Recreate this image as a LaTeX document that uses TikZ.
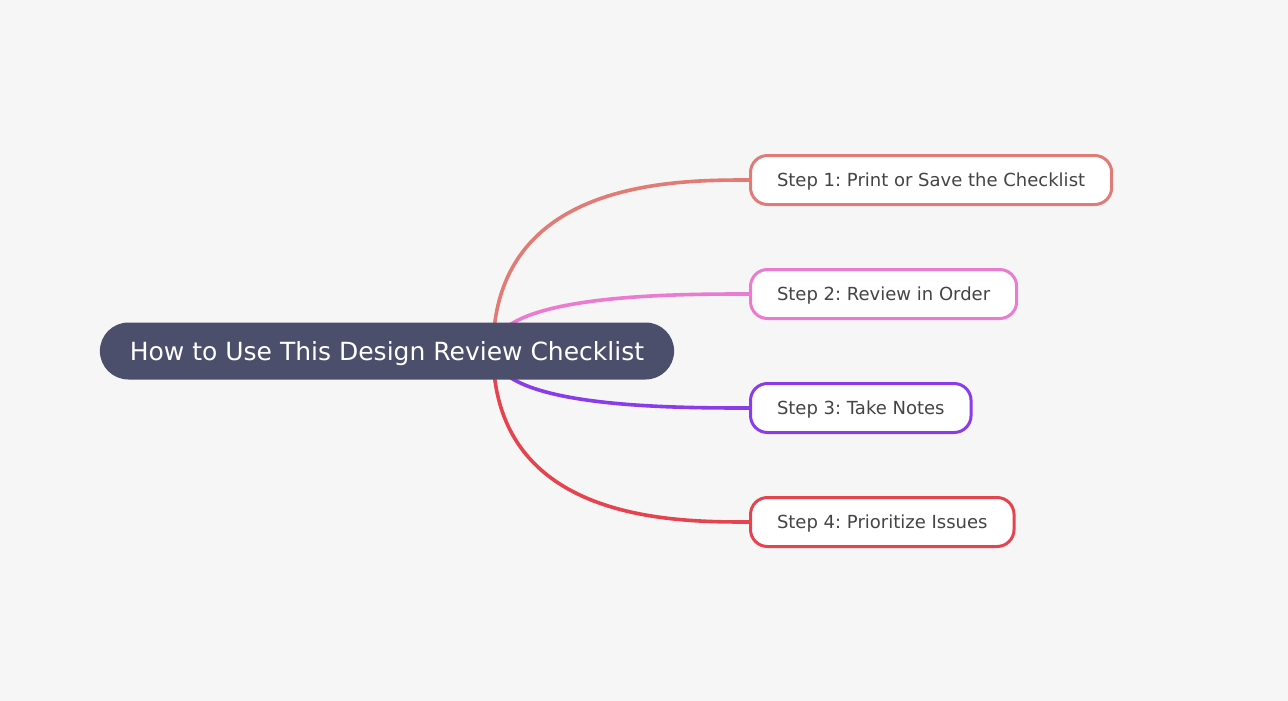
\documentclass[tikz,border=0pt]{standalone}
\usepackage{fontspec}
\setmainfont{DejaVu Sans}
\frenchspacing
\definecolor{pagebg}{HTML}{F6F6F6}
\definecolor{rootfill}{HTML}{4B4F6B}
\definecolor{stepone}{HTML}{E07B76}
\definecolor{steptwo}{HTML}{EB7BD0}
\definecolor{stepthree}{HTML}{8A3BEA}
\definecolor{stepfour}{HTML}{E5444F}
\definecolor{steptext}{HTML}{444444}
\pgfdeclarelayer{bg}
\pgfdeclarelayer{links}
\pgfsetlayers{bg,links,main}
\tikzset{
  rootbox/.style={fill=rootfill, text=white, rounded corners=28.5pt, minimum height=57pt,
    inner xsep=30pt, inner ysep=0pt, text height=18.2pt, text depth=0pt,
    font=\fontsize{25}{30}\selectfont},
  stepbox/.style={draw=#1, fill=white, line width=3pt, rounded corners=17pt, minimum height=49pt,
    inner xsep=26.5pt, inner ysep=0pt, text height=13.1pt, text depth=0pt, anchor=west,
    text=steptext, font=\fontsize{18}{22}\selectfont},
  link/.style={draw=#1, line width=3.6pt},
}

\begin{document}
\begin{tikzpicture}[x=1pt,y=1pt,yscale=-1,xscale=1]
\begin{pgfonlayer}{bg}
%Page background
\fill [pagebg] (0,0) rectangle (1288,701);
\end{pgfonlayer}
\useasboundingbox (0,0) rectangle (1288,701);

% Root Node
\node [rootbox] (root) at (387,351) {How to Use This Design Review Checklist};

% Step Nodes
\node [stepbox=stepone] (s1) at (749,180) {Step 1: Print or Save the Checklist};
\node [stepbox=steptwo] (s2) at (749,294) {Step 2: Review in Order};
\node [stepbox=stepthree] (s3) at (749,408) {Step 3: Take Notes};
\node [stepbox=stepfour] (s4) at (749,522) {Step 4: Prioritize Issues};

% Curve Lines
\begin{pgfonlayer}{links}
\coordinate (hub) at (493,351);
\draw [link=stepone] (hub) .. controls (hub |- s1.west) and +(-75,0) .. (s1.west);
\draw [link=steptwo] (hub) .. controls (hub |- s2.west) and +(-75,0) .. (s2.west);
\draw [link=stepthree] (hub) .. controls (hub |- s3.west) and +(-75,0) .. (s3.west);
\draw [link=stepfour] (hub) .. controls (hub |- s4.west) and +(-75,0) .. (s4.west);
\end{pgfonlayer}

\end{tikzpicture}
\end{document}
